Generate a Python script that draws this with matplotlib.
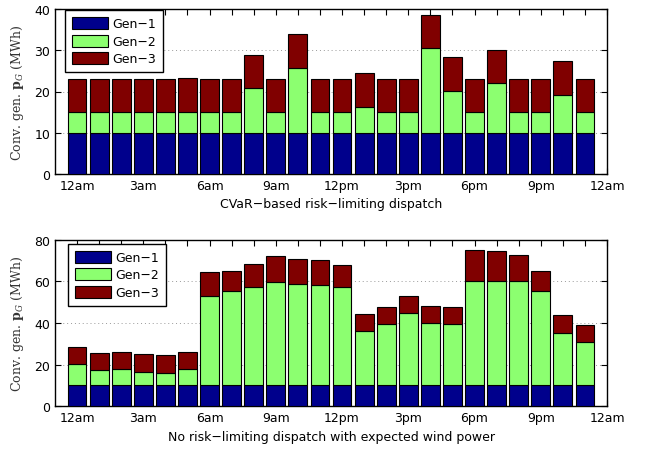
import matplotlib
matplotlib.use("Agg")
import matplotlib.pyplot as plt
import numpy as np

hours = list(range(24))
tick_labels = ['12am', '3am', '6am', '9am', '12pm', '3pm', '6pm', '9pm', '12am']

# Top panel: CVaR-based risk-limiting dispatch (MWh)
cvar_gen1 = [10]*24
cvar_gen2 = [5, 5, 5, 5, 5, 5.1, 5, 5, 10.8, 5, 15.8, 5,
             5, 6.2, 5, 5, 20.5, 10.2, 5, 12.0, 5, 5, 9.2, 5]
cvar_gen3 = [8, 8, 8, 8, 8, 8.2, 8, 8, 8.0, 8, 8.1, 8,
             8, 8.3, 8, 8, 8.1, 8.2, 8, 8.1, 8, 8, 8.3, 8]

# Bottom panel: no risk-limiting dispatch with expected wind power (MWh)
nr_gen1 = [10]*24
nr_gen2 = [10.5, 7.4, 7.8, 6.6, 6.2, 7.9, 42.8, 45.4, 47.4, 49.7, 48.7, 48.4,
           47.1, 26.3, 29.4, 34.6, 29.8, 29.4, 50, 50, 50, 45.5, 25.4, 20.9]
nr_gen3 = [8.1, 8.4, 8.3, 8.4, 8.3, 8.2, 11.5, 9.4, 10.8, 12.5, 12.0, 11.7,
           10.6, 8.2, 8.1, 8.4, 8.2, 8.1, 14.9, 14.4, 12.6, 9.3, 8.3, 8.1]

c1, c2, c3 = '#00008C', '#8CFF70', '#800000'

plt.rcParams['mathtext.fontset'] = 'dejavuserif'

fig = plt.figure(figsize=(6.45, 4.52), dpi=100)
W, H = 645, 452
ax1 = fig.add_axes([55/W, 1-175/H, 552/W, 165/H])
ax2 = fig.add_axes([55/W, 1-407.3/H, 552/W, 166.6/H])

def draw(ax, g1, g2, g3, ymax, yticks, xlabel, legx, legy):
    g1 = np.array(g1); g2 = np.array(g2); g3 = np.array(g3)
    kw = dict(width=0.85, edgecolor='black', linewidth=0.8, zorder=3)
    ax.bar(hours, g1, color=c1, label='Gen\u22121', **kw)
    ax.bar(hours, g2, bottom=g1, color=c2, label='Gen\u22122', **kw)
    ax.bar(hours, g3, bottom=g1+g2, color=c3, label='Gen\u22123', **kw)
    ax.set_xlim(-1, 24)
    ax.set_ylim(0, ymax)
    ax.set_xticks(range(0, 25))
    ax.set_xticklabels([tick_labels[i//3] if i % 3 == 0 else '' for i in range(25)])
    ax.set_yticks(yticks)
    ax.tick_params(direction='in', top=True, right=True, length=4, labelsize=9, width=0.8)
    ax.yaxis.grid(True, linestyle=(0, (1, 3)), color='#999999', linewidth=0.7, zorder=0)
    ax.set_axisbelow(True)
    for s in ax.spines.values():
        s.set_linewidth(1.0)
    ax.set_xlabel(xlabel, fontsize=9, labelpad=4)
    ax.set_ylabel(r'Conv. gen. $\mathbf{p}_G$ (MWh)', fontsize=9, family='DejaVu Serif',
                  color='#333333', labelpad=6)
    bb = ax.get_position()
    leg = ax.legend(loc='upper left', fontsize=9, frameon=True, fancybox=False,
                    edgecolor='black', framealpha=1, handlelength=2.9, handleheight=1.1,
                    borderpad=0.55, labelspacing=0.35, handletextpad=0.3, borderaxespad=0,
                    bbox_to_anchor=(legx/(bb.width*W), 1-legy/(bb.height*H)))
    leg.get_frame().set_linewidth(1.0)

draw(ax1, cvar_gen1, cvar_gen2, cvar_gen3, 40, [0, 10, 20, 30, 40],
     'CVaR\u2212based risk\u2212limiting dispatch', 10, 1)
draw(ax2, nr_gen1, nr_gen2, nr_gen3, 80, [0, 20, 40, 60, 80],
     'No risk\u2212limiting dispatch with expected wind power', 13, 4)

fig.savefig('out.png', dpi=100)
